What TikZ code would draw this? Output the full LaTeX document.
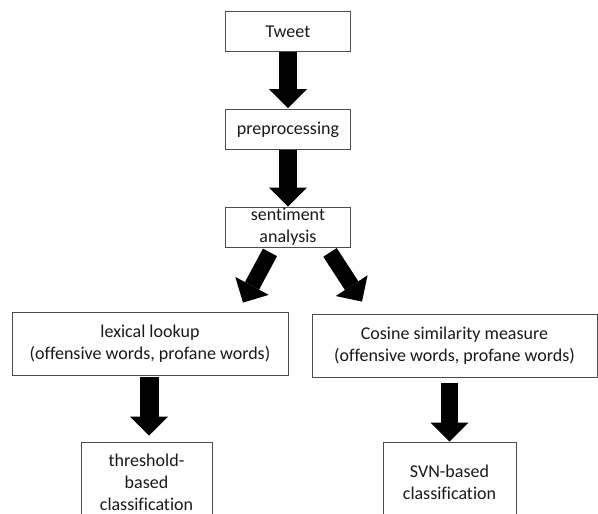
\documentclass[tikz,border=0pt]{standalone}
\usepackage{fontspec}
\setmainfont[Ligatures=NoCommon]{Carlito}
\usetikzlibrary{arrows.meta,calc}
\tikzset{
  box/.style={draw=black!70, line width=0.8pt, fill=white, align=center,
    inner sep=0pt, text=black!90, font=\fontsize{18}{22}\selectfont},
  blockarrow/.style={draw=black, line width=#1,
    -{Triangle[width=38pt, length=19pt, line width=0pt]}},
  blockarrow/.default=18pt
}
\begin{document}
\begin{tikzpicture}[x=1pt, y=-1pt]
  \useasboundingbox (0,0) rectangle (598,514);
  \clip (0,0) rectangle (598,514);
  \fill[white] (0,0) rectangle (598,514);

  % flow boxes
  \node[box, minimum width=125pt, minimum height=40pt] (tweet) at (288,31.5) {Tweet};
  \node[box, minimum width=125pt, minimum height=40pt] (pre) at (288,129.5) {preprocessing};
  \node[box, minimum width=125pt, minimum height=40pt] (sent) at (288,227) {sentiment\\analysis};
  \node[box, minimum width=276pt, minimum height=63pt] (lex) at (150,343.5)
    {lexical lookup\\(offensive words, profane words)};
  \node[box, minimum width=285pt, minimum height=63pt] (cos) at (454.5,345.5)
    {Cosine similarity measure\\(offensive words, profane words)};
  \node[box, minimum width=131pt, minimum height=80pt] (thr) at (146.5,482)
    {threshold-\\based\\classification};
  \node[box, minimum width=133pt, minimum height=80pt] (svn) at (449.5,482)
    {SVN-based\\classification};

  % block arrows between stages
  \draw[blockarrow] (tweet.south) -- ($(pre.north)+(0,-1)$);
  \draw[blockarrow] (pre.south) -- (sent.north);
  \draw[blockarrow=16pt] ($(sent.south)+(-18,5)$) -- ($(lex.north)+(93,-9)$);
  \draw[blockarrow=16pt] ($(sent.south)+(42,5)$) -- ($(cos.north)+(-92.5,-12)$);
  \draw[blockarrow=19pt, shorten <=2pt, shorten >=6pt]
    ($(lex.south)+(-1,0)$) -- ($(lex.south |- thr.north)+(-1,0)$);
  \draw[blockarrow=17pt, shorten <=6pt] (svn.north |- cos.south) -- (svn.north);
\end{tikzpicture}
\end{document}
